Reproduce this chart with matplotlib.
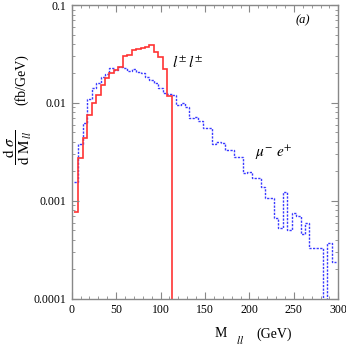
import matplotlib
matplotlib.use('Agg')
import matplotlib.pyplot as plt
from matplotlib.ticker import MultipleLocator, LogLocator, FuncFormatter, NullFormatter
import numpy as np

plt.rcParams['font.family'] = ['Liberation Serif', 'DejaVu Serif']
plt.rcParams['mathtext.fontset'] = 'stix'

# 5 GeV bins, first bin centred on 5 GeV
bin_width = 5.0
first_edge = 2.5

# l+l- histogram (red), last entry = empty bin after the cut
ll_values = [0.00078, 0.00275, 0.0044, 0.0075, 0.0101, 0.0121, 0.0153, 0.0179,
             0.0200, 0.0216, 0.0232, 0.0300, 0.0310, 0.0345, 0.0353, 0.0362,
             0.0376, 0.0388, 0.0334, 0.0292, 0.0221, 0.0118, 0.0]

# mu- e+ histogram (blue, dotted)
mue_values = [0.00157, 0.0038, 0.0063, 0.0109, 0.0141, 0.0161, 0.0185, 0.0197,
              0.0229, 0.0217, 0.0231, 0.0226, 0.0214, 0.0220, 0.0209, 0.0201,
              0.0185, 0.0172, 0.0159, 0.0141, 0.0125, 0.0123, 0.0121, 0.0096,
              0.0099, 0.0091, 0.0070, 0.0072, 0.0065, 0.0055, 0.0055, 0.00382,
              0.00403, 0.00388, 0.00331, 0.00331, 0.00279, 0.00279, 0.00192, 0.00199,
              0.00173, 0.00173, 0.00140, 0.00106, 0.00106, 0.000665, 0.000526, 0.00123,
              0.000506, 0.00076, 0.00070, 0.00046, 0.00060, 0.00033, 0.00033, 0.00033,
              0.0, 0.000376, 0.00024]

ll_edges = first_edge + bin_width * np.arange(len(ll_values) + 1)
mue_edges = first_edge + bin_width * np.arange(len(mue_values) + 1)

fig = plt.figure(figsize=(3.46, 3.46), dpi=100)
ax = fig.add_axes([0.207, 0.136, 0.771, 0.8495])

ax.stairs(mue_values, mue_edges, baseline=None, color='#3a3aff', lw=1.0,
          linestyle=(0, (1.6, 1.0)))
ax.stairs(ll_values, ll_edges, baseline=None, color='#ff3333', lw=1.2)

ax.set_yscale('log')
ax.set_xlim(0, 300)
ax.set_ylim(1e-4, 0.1)

ax.xaxis.set_major_locator(MultipleLocator(50))
ax.xaxis.set_minor_locator(MultipleLocator(10))
ax.yaxis.set_major_locator(LogLocator(base=10))
ax.yaxis.set_minor_locator(LogLocator(base=10, subs=np.arange(2, 10)))
ax.yaxis.set_major_formatter(FuncFormatter(lambda v, p: '%g' % v))
ax.yaxis.set_minor_formatter(NullFormatter())

ax.tick_params(which='both', direction='in', top=True, right=True,
               color='#888888', labelsize=8.5)
ax.tick_params(which='major', length=5, width=0.8, pad=4)
ax.tick_params(which='minor', length=2.5, width=0.6)
for s in ax.spines.values():
    s.set_color('#888888')
    s.set_linewidth(1.0)

# labels
fig.text(0.876, 0.94, '(a)', fontsize=9, style='italic', ha='center', va='center')
fig.text(0.497, 0.805, r'$l^{\pm}\,l^{\pm}$', fontsize=11, ha='left', va='baseline')
fig.text(0.737, 0.545, r'$\mu^{-}\ e^{+}$', fontsize=11, ha='left', va='baseline')

fig.text(0.621, 0.025, 'M', fontsize=10, ha='left', va='baseline')
fig.text(0.683, 0.005, r'$ll$', fontsize=8, ha='left', va='baseline')
fig.text(0.742, 0.025, '(GeV)', fontsize=10, ha='left', va='baseline')

fig.text(0.050, 0.575, r'$\dfrac{\mathrm{d}\ \sigma}{\mathrm{d\ M}_{\,ll}}$', fontsize=11,
         rotation=90, ha='center', va='center')
fig.text(0.062, 0.77, '(fb/GeV)', fontsize=10, rotation=90, ha='center', va='center')

fig.savefig('out.png', dpi=100)
